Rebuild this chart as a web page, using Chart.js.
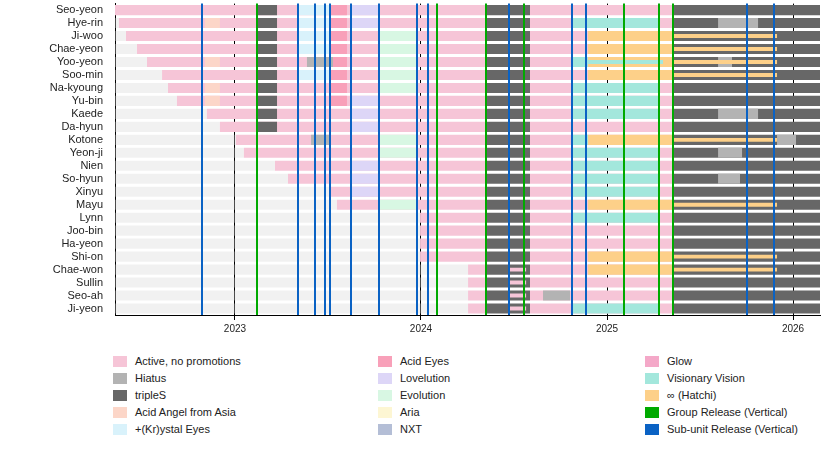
<!DOCTYPE html>
<html><head><meta charset="utf-8">
<script src="https://cdn.jsdelivr.net/npm/chart.js@4.4.1/dist/chart.umd.min.js"></script>
<style>
body{margin:0;background:#fff;font-family:"Liberation Sans",Arial,sans-serif;}
#wrap{position:relative;width:830px;height:345px;margin-top:-7px;}
#legend{position:absolute;left:113px;top:355px;width:700px;font-size:11px;color:#222;}
.it{position:absolute;display:flex;align-items:center;white-space:nowrap;}
.sw{width:14px;height:11px;margin-right:8px;}
</style></head><body>
<div id="wrap"><canvas id="c"></canvas></div>
<div id="legend"></div>
<script>
const members=["Seo-yeon","Hye-rin","Ji-woo","Chae-yeon","Yoo-yeon","Soo-min","Na-kyoung","Yu-bin","Kaede","Da-hyun","Kotone","Yeon-ji","Nien","So-hyun","Xinyu","Mayu","Lynn","Joo-bin","Ha-yeon","Shi-on","Chae-won","Sullin","Seo-ah","Ji-yeon"];
const axisMin=2022.355, axisMax=2026.145;
const yearTicks=[2023,2024,2025,2026];
const joinDates=[2022.355,2022.376,2022.414,2022.473,2022.527,2022.608,2022.640,2022.688,2022.849,2022.919,2023.005,2023.048,2023.215,2023.285,2023.505,2023.548,2023.995,2023.995,2023.995,2023.995,2024.253,2024.253,2024.253,2024.253];
// segments: [memberIndex, start, end]
const tripleS=[0,1,2,3,4,5,6,7,8,9].map(i=>[i,2023.118,2023.226]).concat(members.map((m,i)=>[i,2024.349,2024.586]),members.map((m,i)=>[i,2025.355,axisMax]));
const active=members.map((m,i)=>[i,joinDates[i],2024.349]).concat(members.map((m,i)=>[i,2024.586,2025.355]));
const activeThin=[20,21,22,23].map(i=>[i,2024.478,2024.565]);
const hiatus=[[4,2023.387,2023.527],[10,2023.409,2023.511],[22,2024.656,2024.801],[1,2025.597,2025.812],[4,2025.597,2025.672],[8,2025.597,2025.812],[10,2025.914,2026.016],[11,2025.597,2025.726],[13,2025.597,2025.715]];
const aaa=[1,4,6,7].map(i=>[i,2022.839,2022.919]);
const krystal=[0,1,2,3,5].map(i=>[i,2023.339,2023.516]);
const acidEyes=[0,1,2,3,4,5,6,7].map(i=>[i,2023.516,2023.602]);
const lovelution=[0,1,7,8,9,12,13,14].map(i=>[i,2023.624,2023.774]);
const evolution=[2,3,4,5,6,10,11,15].map(i=>[i,2023.774,2023.978]);
const visionary=[1,6,7,8,11,12,13,14,16,23].map(i=>[i,2024.812,2025.285]).concat([4,10].map(i=>[i,2024.812,2024.898]));
const visionaryThin=[[4,2024.898,2025.301]];
const hatchi=[2,3,4,5,10,15,19,20].map(i=>[i,2024.898,2025.355]);
const hatchiThin=[2,3,4,5,10,15,19,20].map(i=>[i,2025.355,2025.914]);
const groupRel=[2023.118,2024.086,2024.349,2024.554,2025.091,2025.280,2025.355];
const subRel=[2022.823,2023.339,2023.430,2023.484,2023.511,2023.624,2023.774,2023.978,2024.038,2024.473,2024.812,2024.887,2025.753,2025.898];

const C={active:"#f6c5d7",hiatus:"#b3b3b3",tripleS:"#676767",aaa:"#fcd6c8",krystal:"#d9f2fb",acid:"#f8a0b9",love:"#ddd6f7",evo:"#d8f7e3",aria:"#fdf6d3",nxt:"#b4bed6",glow:"#f4a8c8",vv:"#a3e7dc",hatchi:"#fdd089",grp:"#00aa00",sub:"#0a62c4",pre:"rgba(215,215,215,0.35)"};

function layers(segs,color,bp){
  const out=[];
  segs.forEach(([i,s,e])=>{
    let L=out.find(d=>d.data[i]===null);
    if(!L){L={data:members.map(()=>null),backgroundColor:color,barPercentage:bp,categoryPercentage:1,grouped:false,borderWidth:0};out.push(L);}
    L.data[i]=[s,e];
  });
  return out;
}
const pre=members.map((m,i)=>[i,axisMin,joinDates[i]]).filter(s=>s[2]>s[1]);
const datasets=[].concat(
  layers(hatchiThin,C.hatchi,0.3),
  layers(visionaryThin,C.vv,0.3),
  layers(activeThin,C.active,0.3),
  layers(hiatus,C.hiatus,0.78),
  layers(hatchi,C.hatchi,0.78),
  layers(visionary,C.vv,0.78),
  layers(acidEyes,C.acid,0.78),
  layers(krystal,C.krystal,0.78),
  layers(aaa,C.aaa,0.78),
  layers(lovelution,C.love,0.78),
  layers(evolution,C.evo,0.78),
  layers(tripleS,C.tripleS,0.78),
  layers(active,C.active,0.78),
  layers(pre,C.pre,0.78)
);
const releaseLines={id:"rel",afterDatasetsDraw(ch){
  const x=ch.scales.x,a=ch.chartArea,ctx=ch.ctx;ctx.save();ctx.lineWidth=2;
  [[groupRel,C.grp],[subRel,C.sub]].forEach(([arr,col])=>{ctx.strokeStyle=col;arr.forEach(v=>{const p=Math.round(x.getPixelForValue(v));ctx.beginPath();ctx.moveTo(p,a.top);ctx.lineTo(p,a.bottom);ctx.stroke();});});
  ctx.restore();}};
new Chart(document.getElementById("c"),{type:"bar",data:{labels:members,datasets},
 options:{indexAxis:"y",responsive:true,maintainAspectRatio:false,animation:false,
  layout:{padding:{top:2,right:10,left:0,bottom:0}},
  plugins:{legend:{display:false},tooltip:{enabled:false}},
  scales:{
   x:{type:"linear",min:axisMin,max:axisMax,
      afterBuildTicks(s){s.ticks=yearTicks.map(v=>({value:v}));},
      ticks:{includeBounds:false,color:"#222",font:{size:10,family:"Liberation Sans"},callback:v=>String(v)},
      grid:{color:"#000",lineWidth:1,tickLength:5,drawOnChartArea:true},border:{color:"#000"}},
   y:{afterFit(s){s.width=115;},grid:{display:false},border:{color:"#000"},
      ticks:{color:"#222",font:{size:11,family:"Liberation Sans"},padding:4,autoSkip:false}}
  }},plugins:[releaseLines]});

const legendItems=[["Active, no promotions",C.active],["Hiatus",C.hiatus],["tripleS",C.tripleS],["Acid Angel from Asia",C.aaa],["+(Kr)ystal Eyes",C.krystal],
["Acid Eyes",C.acid],["Lovelution",C.love],["Evolution",C.evo],["Aria",C.aria],["NXT",C.nxt],
["Glow",C.glow],["Visionary Vision",C.vv],["∞ (Hatchi)",C.hatchi],["Group Release (Vertical)",C.grp],["Sub-unit Release (Vertical)",C.sub]];
const lg=document.getElementById("legend");
legendItems.forEach(([t,c],k)=>{const col=Math.floor(k/5),row=k%5;const d=document.createElement("div");d.className="it";
 d.style.left=[0,265,532][col]+"px";d.style.top=(row*17)+"px";
 d.innerHTML='<span class="sw" style="background:'+c+'"></span><span>'+t+'</span>';lg.appendChild(d);});
</script></body></html>
